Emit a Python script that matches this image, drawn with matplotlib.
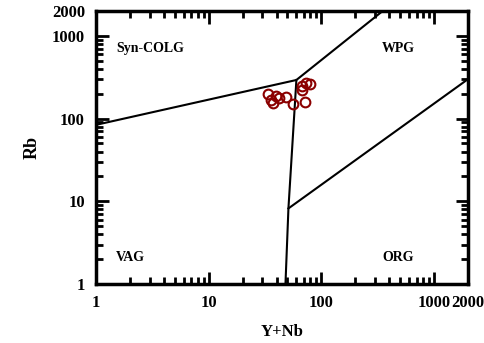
import matplotlib
matplotlib.use('Agg')
import matplotlib.pyplot as plt
from matplotlib.ticker import FixedLocator, LogLocator, NullFormatter

# sample data: Y+Nb vs Rb
y_nb = [33.4, 35.5, 37.4, 39.5, 42.3, 48.2, 55.6, 66.8, 66.8, 72.6, 79.2, 71.6]
rb = [197, 168, 153, 189, 179, 184, 149, 248, 222, 267, 262, 157]

# Pearce (1984) field boundaries
colg_x = [1, 60, 350]
colg_y = [84, 293, 2000]
vert_x = [60, 51, 48]
vert_y = [293, 8.2, 1]
org_x = [51, 2000]
org_y = [8.2, 300]

field_names = ['Syn-COLG', 'WPG', 'VAG', 'ORG']
field_x = [1.5, 345, 1.5, 345]
field_y = [700, 700, 2.1, 2.1]

tick_vals = [1, 10, 100, 1000, 2000]
tick_text = ['1', '10', '100', '1000', '2000']

plt.rcParams['font.family'] = ['Liberation Serif', 'DejaVu Serif']

fig = plt.figure(figsize=(4.85, 3.43), dpi=100)
ax = fig.add_axes([96 / 485, 1 - 284 / 343, (468 - 96) / 485, (284 - 11) / 343])

ax.plot(colg_x, colg_y, color='black', lw=1.5)
ax.plot(vert_x, vert_y, color='black', lw=1.5)
ax.plot(org_x, org_y, color='black', lw=1.5)

ax.plot(y_nb, rb, 'o', ms=7, mfc='none', mec='#8B0000', mew=1.5)

for name, fx, fy in zip(field_names, field_x, field_y):
    ax.text(fx, fy, name, fontsize=10, fontweight='bold', ha='left', va='center')

ax.set_xscale('log')
ax.set_yscale('log')
ax.set_xlim(1, 2000)
ax.set_ylim(1, 2000)

ax.xaxis.set_major_locator(FixedLocator(tick_vals))
ax.yaxis.set_major_locator(FixedLocator(tick_vals))
ax.set_xticklabels(tick_text)
ax.set_yticklabels(tick_text)
ax.xaxis.set_minor_locator(LogLocator(base=10, subs=range(2, 10)))
ax.yaxis.set_minor_locator(LogLocator(base=10, subs=range(2, 10)))
ax.xaxis.set_minor_formatter(NullFormatter())
ax.yaxis.set_minor_formatter(NullFormatter())

ax.tick_params(which='both', direction='in', top=True, right=True, width=2)
ax.tick_params(which='major', length=9, pad=8, labelsize=12)
ax.tick_params(which='minor', length=5)
for lab in ax.get_xticklabels() + ax.get_yticklabels():
    lab.set_fontweight('bold')

for sp in ax.spines.values():
    sp.set_linewidth(2.5)

ax.set_xlabel('Y+Nb', fontsize=12, fontweight='bold', labelpad=9)
ax.set_ylabel('Rb', fontsize=13, fontweight='bold', labelpad=8)

fig.savefig('out.png', dpi=100)
